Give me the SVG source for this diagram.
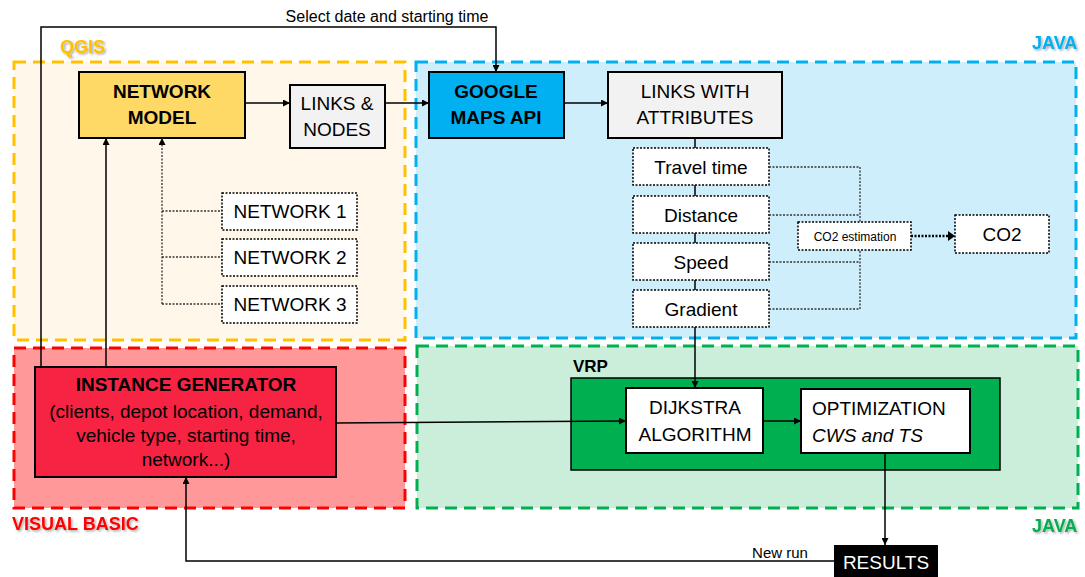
<svg xmlns="http://www.w3.org/2000/svg" width="1085" height="577" viewBox="0 0 1085 577">
<style>
text{font-family:"Liberation Sans",Arial,sans-serif;fill:#000}
.t{font-size:19px;text-anchor:middle}
.b{font-weight:bold}
.lbl{font-size:18px;font-weight:bold}
.box{stroke:#000;stroke-width:2}
.dot{fill:#fff;stroke:#000;stroke-width:1.5;stroke-dasharray:2 1.5}
.c{fill:none;stroke:#000;stroke-width:1.5}
.cd{fill:none;stroke:#333;stroke-width:1.3;stroke-dasharray:2 1.5}
</style>
<defs>
<marker id="ah" viewBox="0 0 10 10" refX="10" refY="5" markerWidth="7" markerHeight="7" orient="auto" markerUnits="userSpaceOnUse"><path d="M0,0L10,5L0,10z" fill="#000"/></marker>
<filter id="sh" x="-10%" y="-20%" width="130%" height="150%"><feDropShadow dx="1.5" dy="1.5" stdDeviation="1" flood-color="#000" flood-opacity="0.35"/></filter>
</defs>
<rect width="1085" height="577" fill="#fff"/>
<g id="regions">
<rect x="14" y="62" width="391" height="278" fill="#fff8ea" stroke="#ffc000" stroke-width="3" stroke-dasharray="12 7"/>
<rect x="416" y="62" width="660" height="276" fill="#cdeefa" stroke="#00b0f0" stroke-width="3" stroke-dasharray="12 7"/>
<rect x="14" y="348" width="391" height="160" fill="#ff9999" stroke="#ff0000" stroke-width="3" stroke-dasharray="12 7"/>
<rect x="417" y="346" width="661" height="162" fill="#cbeedb" stroke="#00b050" stroke-width="3" stroke-dasharray="12 7"/>
<text x="60" y="53" class="lbl" style="fill:#ffc000" filter="url(#sh)">QGIS</text>
<text x="1032" y="49" class="lbl" style="fill:#00b0f0" filter="url(#sh)">JAVA</text>
<text x="12" y="530" class="lbl" style="fill:#ff0000" filter="url(#sh)">VISUAL BASIC</text>
<text x="1032" y="532" class="lbl" style="fill:#00b050" filter="url(#sh)">JAVA</text>
</g>
<g id="network-model"><rect class="box" x="79" y="72" width="166" height="66" fill="#ffd966"/><text class="t b" x="162" y="98">NETWORK</text><text class="t b" x="162" y="124">MODEL</text></g>
<g id="links-nodes"><rect class="box" x="290" y="85" width="95" height="63" fill="#f2f2f2"/><text class="t" x="337" y="110">LINKS &amp;</text><text class="t" x="337" y="136">NODES</text></g>
<g id="google-maps"><rect class="box" x="429" y="72" width="135" height="66" fill="#00b0f0"/><text class="t b" x="496" y="98">GOOGLE</text><text class="t b" x="496" y="124">MAPS API</text></g>
<g id="links-attributes"><rect class="box" x="608" y="72" width="174" height="66" fill="#f2f2f2"/><text class="t" x="695" y="98">LINKS WITH</text><text class="t" x="695" y="124">ATTRIBUTES</text></g>
<g id="travel-time"><rect class="dot" x="633" y="148" width="136" height="37"/><text class="t" x="701" y="174">Travel time</text></g>
<g id="distance"><rect class="dot" x="633" y="196" width="136" height="37"/><text class="t" x="701" y="222">Distance</text></g>
<g id="speed"><rect class="dot" x="633" y="243" width="136" height="37"/><text class="t" x="701" y="269">Speed</text></g>
<g id="gradient"><rect class="dot" x="633" y="290" width="136" height="37"/><text class="t" x="701" y="316">Gradient</text></g>
<g id="co2-estimation"><rect class="dot" x="798" y="222" width="113" height="28"/><text x="855" y="241" font-size="12" text-anchor="middle">CO2 estimation</text></g>
<g id="co2"><rect class="dot" x="955" y="215" width="94" height="38"/><text class="t" x="1002" y="241">CO2</text></g>
<g id="network-1"><rect class="dot" x="222" y="193" width="135" height="37"/><text class="t" x="290" y="218">NETWORK 1</text></g>
<g id="network-2"><rect class="dot" x="222" y="239" width="135" height="37"/><text class="t" x="290" y="264">NETWORK 2</text></g>
<g id="network-3"><rect class="dot" x="222" y="286" width="135" height="37"/><text class="t" x="290" y="311">NETWORK 3</text></g>
<g id="instance-generator"><rect class="box" x="35" y="367" width="301" height="110" fill="#f62343"/>
<text class="t b" x="186" y="391">INSTANCE GENERATOR</text>
<text class="t" x="186" y="418" font-size="18">(clients, depot location, demand,</text>
<text class="t" x="186" y="442" font-size="18">vehicle type, starting time,</text>
<text class="t" x="186" y="466" font-size="18">network...)</text></g>
<g id="vrp"><rect x="571" y="378" width="429" height="92" fill="#00b050" stroke="#000" stroke-width="1.5"/><text x="573" y="372" font-size="17" font-weight="bold">VRP</text></g>
<g id="dijkstra"><rect class="box" x="626" y="388" width="137" height="65" fill="#fff"/><text class="t" x="695" y="414">DIJKSTRA</text><text class="t" x="695" y="441">ALGORITHM</text></g>
<g id="optimization"><rect class="box" x="801" y="389" width="169" height="64" fill="#fff"/><text x="812" y="415" font-size="19">OPTIMIZATION</text><text x="812" y="442" font-size="19" font-style="italic">CWS and TS</text></g>
<g id="results"><rect x="834" y="545" width="104" height="32" fill="#000"/><text class="t" x="886" y="569" style="fill:#fff">RESULTS</text></g>
<g id="connectors">
<path class="c" d="M41,367V27H496V72" marker-end="url(#ah)"/>
<text x="387" y="22" font-size="16" text-anchor="middle">Select date and starting time</text>
<path class="c" d="M106,367V138" marker-end="url(#ah)"/>
<path class="cd" d="M162,304V138" marker-end="url(#ah)"/>
<path class="cd" d="M162,211H222M162,257H222M162,304H222"/>
<path class="c" d="M245,103H290" marker-end="url(#ah)"/>
<path class="c" d="M385,103H429" marker-end="url(#ah)"/>
<path class="c" d="M564,103H608" marker-end="url(#ah)"/>
<path class="c" d="M695,138V148M695,185V196M695,233V243M695,280V290"/>
<path class="c" d="M695,327V388" marker-end="url(#ah)"/>
<path class="cd" d="M769,167H860V222M769,215H860M769,262H860M769,309H860V250"/>
<path fill="none" stroke="#000" stroke-width="2.5" stroke-dasharray="2 1.5" d="M911,236H948"/>
<path d="M948,231L955,236L948,241z" fill="#000"/>
<path class="c" d="M336,423L626,421" marker-end="url(#ah)"/>
<path class="c" d="M763,421H801" marker-end="url(#ah)"/>
<path class="c" d="M885,453V545" marker-end="url(#ah)"/>
<path class="c" d="M834,561H186V477" marker-end="url(#ah)"/>
<text x="780" y="558" font-size="15" text-anchor="middle">New run</text>
</g>
</svg>
